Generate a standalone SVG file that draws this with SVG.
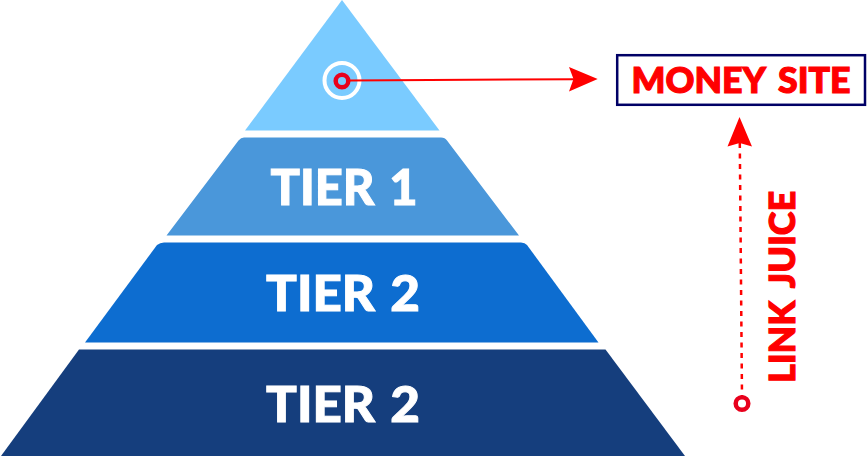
<svg xmlns="http://www.w3.org/2000/svg" width="867" height="457" viewBox="0 0 867 457">
<style>
.tier{font-family:"Lato","Open Sans",sans-serif;font-weight:900;font-size:50px;fill:#fff;stroke:#fff;stroke-width:1;text-anchor:middle;word-spacing:3px}
.red{font-family:"Lato","Open Sans",sans-serif;font-weight:900;fill:#f00;stroke:#f00;stroke-width:1.200;word-spacing:5px}
.line{fill:none;stroke:#f00}
.ring{fill:none;stroke:#e8001c;stroke-width:4.500}
</style>
<rect width="867" height="457" fill="#fff"/>
<g id="apex"><path d="M342 0L439.500 130.500H245Z" fill="#7acbff"/><circle cx="342" cy="80.500" r="17.500" fill="none" stroke="#fff" stroke-width="4"/></g>
<g id="tier1"><path d="M244 137.500H441Q445 137.500 447 140.500L519 235.500H166.500L238.500 140.500Q241 137.500 244 137.500Z" fill="#4a97da"/><text class="tier" x="344" y="205" textLength="147" lengthAdjust="spacingAndGlyphs">TIER 1</text></g>
<g id="tier2a"><path d="M164 242.500H521Q525 242.500 527 245L598.500 342.500H85L157 245Q160 242.500 164 242.500Z" fill="#0d6dd0"/><text class="tier" x="343" y="311" textLength="154" lengthAdjust="spacingAndGlyphs">TIER 2</text></g>
<g id="tier2b"><path d="M79 349.500H605.500L685 456H1Z" fill="#153e7d"/><text class="tier" x="343" y="422" textLength="154" lengthAdjust="spacingAndGlyphs">TIER 2</text></g>
<g id="money-site"><rect x="617.200" y="55.200" width="247.800" height="49.600" fill="#fff" stroke="#000066" stroke-width="2.500"/><text class="red" x="741" y="92.500" font-size="36" text-anchor="middle" textLength="219" lengthAdjust="spacingAndGlyphs">MONEY SITE</text></g>
<g id="link-juice-label"><text class="red" transform="translate(795 383) rotate(-90)" font-size="36" textLength="192" lengthAdjust="spacingAndGlyphs">LINK JUICE</text></g>
<g id="connectors">
<circle class="ring" cx="342" cy="81" r="6.300"/>
<path class="line" stroke-width="2" d="M349 80.500L575 79.200"/>
<path d="M597.700 79L569 91.500L573.500 79L569 67Z" fill="#f00"/>
<path class="line" stroke-width="2.500" stroke-dasharray="5 5.500" d="M739.800 143L742 396"/>
<path d="M739.500 117L752 146.500L739.700 143L727.500 146.500Z" fill="#f00"/>
<circle class="ring" cx="742" cy="403.500" r="6.300"/>
</g>
</svg>
